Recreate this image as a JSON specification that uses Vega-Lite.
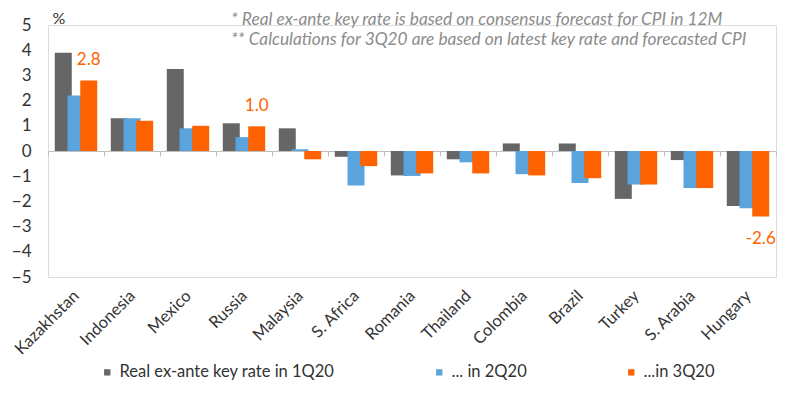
{
  "$schema": "https://vega.github.io/schema/vega-lite/v6.json",
  "width": 728,
  "height": 252,
  "autosize": {"type": "none"},
  "padding": {"left": 48, "top": 25, "right": 24, "bottom": 123},
  "background": "white",
  "title": {
    "text": ["* Real ex-ante key rate is based on consensus forecast for CPI in 12M", "** Calculations for 3Q20 are based on latest key rate and forecasted CPI"],
    "anchor": "start",
    "frame": "group",
    "orient": "top",
    "dx": 183,
    "offset": -38,
    "font": "Lato",
    "fontSize": 17.3,
    "fontStyle": "italic",
    "fontWeight": "normal",
    "color": "#8c8c8c",
    "lineHeight": 20
  },
  "data": {
    "values": [
      {"country": "Kazakhstan", "series": "Real ex-ante key rate in 1Q20", "value": 3.9},
      {"country": "Kazakhstan", "series": "... in 2Q20", "value": 2.2},
      {"country": "Kazakhstan", "series": "...in 3Q20", "value": 2.8, "label": "2.8"},
      {"country": "Indonesia", "series": "Real ex-ante key rate in 1Q20", "value": 1.3},
      {"country": "Indonesia", "series": "... in 2Q20", "value": 1.3},
      {"country": "Indonesia", "series": "...in 3Q20", "value": 1.2},
      {"country": "Mexico", "series": "Real ex-ante key rate in 1Q20", "value": 3.25},
      {"country": "Mexico", "series": "... in 2Q20", "value": 0.9},
      {"country": "Mexico", "series": "...in 3Q20", "value": 1.0},
      {"country": "Russia", "series": "Real ex-ante key rate in 1Q20", "value": 1.1},
      {"country": "Russia", "series": "... in 2Q20", "value": 0.55},
      {"country": "Russia", "series": "...in 3Q20", "value": 0.98, "label": "1.0"},
      {"country": "Malaysia", "series": "Real ex-ante key rate in 1Q20", "value": 0.9},
      {"country": "Malaysia", "series": "... in 2Q20", "value": 0.07},
      {"country": "Malaysia", "series": "...in 3Q20", "value": -0.33},
      {"country": "S. Africa", "series": "Real ex-ante key rate in 1Q20", "value": -0.23},
      {"country": "S. Africa", "series": "... in 2Q20", "value": -1.37},
      {"country": "S. Africa", "series": "...in 3Q20", "value": -0.6},
      {"country": "Romania", "series": "Real ex-ante key rate in 1Q20", "value": -0.97},
      {"country": "Romania", "series": "... in 2Q20", "value": -0.99},
      {"country": "Romania", "series": "...in 3Q20", "value": -0.89},
      {"country": "Thailand", "series": "Real ex-ante key rate in 1Q20", "value": -0.33},
      {"country": "Thailand", "series": "... in 2Q20", "value": -0.45},
      {"country": "Thailand", "series": "...in 3Q20", "value": -0.89},
      {"country": "Colombia", "series": "Real ex-ante key rate in 1Q20", "value": 0.3},
      {"country": "Colombia", "series": "... in 2Q20", "value": -0.92},
      {"country": "Colombia", "series": "...in 3Q20", "value": -0.97},
      {"country": "Brazil", "series": "Real ex-ante key rate in 1Q20", "value": 0.3},
      {"country": "Brazil", "series": "... in 2Q20", "value": -1.27},
      {"country": "Brazil", "series": "...in 3Q20", "value": -1.08},
      {"country": "Turkey", "series": "Real ex-ante key rate in 1Q20", "value": -1.9},
      {"country": "Turkey", "series": "... in 2Q20", "value": -1.33},
      {"country": "Turkey", "series": "...in 3Q20", "value": -1.33},
      {"country": "S. Arabia", "series": "Real ex-ante key rate in 1Q20", "value": -0.36},
      {"country": "S. Arabia", "series": "... in 2Q20", "value": -1.47},
      {"country": "S. Arabia", "series": "...in 3Q20", "value": -1.47},
      {"country": "Hungary", "series": "Real ex-ante key rate in 1Q20", "value": -2.18},
      {"country": "Hungary", "series": "... in 2Q20", "value": -2.27},
      {"country": "Hungary", "series": "...in 3Q20", "value": -2.6, "label": "-2.6"}
    ]
  },
  "encoding": {
    "x": {
      "field": "country",
      "type": "nominal",
      "sort": null,
      "scale": {"paddingInner": 0, "paddingOuter": 0},
      "axis": {
        "title": null,
        "orient": "bottom",
        "offset": -126,
        "domainColor": "#bfbfbf",
        "tickColor": "#bfbfbf",
        "tickSize": 5,
        "tickBand": "extent",
        "labelAngle": -45,
        "labelAlign": "right",
        "labelBaseline": "middle",
        "labelPadding": 137,
        "labelFont": "Lato",
        "labelFontSize": 16.5,
        "labelColor": "#333333",
        "grid": false
      }
    },
    "xOffset": {
      "field": "series",
      "type": "nominal",
      "sort": null,
      "scale": {
        "domain": ["Real ex-ante key rate in 1Q20", "... in 2Q20", "...in 3Q20"],
        "paddingInner": 0,
        "paddingOuter": 0.7
      }
    },
    "y": {
      "field": "value",
      "type": "quantitative",
      "scale": {"domain": [-5, 5], "nice": false},
      "axis": {
        "title": "%",
        "titleAngle": 0,
        "titleX": 4,
        "titleY": -7,
        "titleAlign": "left",
        "titleBaseline": "middle",
        "titleFont": "Lato",
        "titleFontSize": 16,
        "titleFontWeight": "normal",
        "titleColor": "#333333",
        "values": [-5, -4, -3, -2, -1, 0, 1, 2, 3, 4, 5],
        "domain": false,
        "ticks": false,
        "grid": false,
        "labelPadding": 17,
        "labelFont": "Lato",
        "labelFontSize": 17,
        "labelColor": "#333333"
      }
    }
  },
  "layer": [
    {
      "mark": {"type": "bar", "width": 17},
      "encoding": {
        "color": {
          "field": "series",
          "type": "nominal",
          "sort": null,
          "scale": {
            "domain": ["Real ex-ante key rate in 1Q20", "... in 2Q20", "...in 3Q20"],
            "range": ["#666666", "#5ba3db", "#ff6200"]
          },
          "legend": {
            "title": null,
            "orient": "none",
            "direction": "horizontal",
            "legendX": 51,
            "legendY": 339,
            "padding": 0,
            "symbolType": "square",
            "symbolSize": 40,
            "symbolStrokeWidth": 0,
            "labelOffset": 4,
            "labelLimit": 400,
            "columnPadding": 96,
            "labelFont": "Lato",
            "labelFontSize": 16.5,
            "labelColor": "#333333"
          }
        }
      }
    },
    {
      "transform": [{"filter": "isValid(datum.label) && datum.value > 0"}],
      "mark": {"type": "text", "baseline": "bottom", "dy": -11, "font": "Lato", "fontSize": 17, "color": "#ff6200"},
      "encoding": {"text": {"field": "label"}}
    },
    {
      "transform": [{"filter": "isValid(datum.label) && datum.value < 0"}],
      "mark": {"type": "text", "baseline": "top", "dy": 14, "font": "Lato", "fontSize": 17, "color": "#ff6200"},
      "encoding": {"text": {"field": "label"}}
    }
  ]
}
